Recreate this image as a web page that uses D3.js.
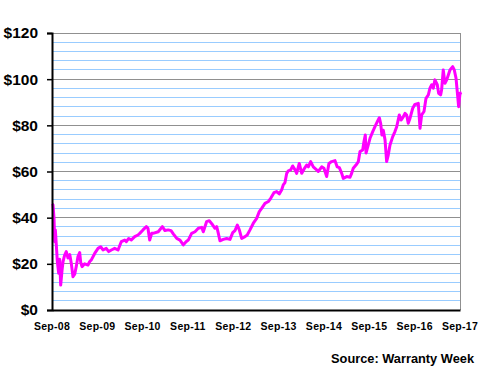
<!DOCTYPE html>
<html><head><meta charset="utf-8">
<script src="https://cdn.jsdelivr.net/npm/d3@7"></script>
<style>body{margin:0;background:#fff;}svg{display:block;font-family:"Liberation Sans",Arial,sans-serif;}</style>
</head><body>
<svg id="c" width="480" height="380"></svg>
<script>
const dates = ["2008-09-02","2008-09-09","2008-09-17","2008-09-23","2008-09-28","2008-10-06","2008-10-14","2008-10-25","2008-11-02","2008-11-10","2008-11-21","2008-11-29","2008-12-12","2008-12-25","2009-01-08","2009-01-22","2009-02-04","2009-02-17","2009-03-03","2009-03-16","2009-03-29","2009-04-12","2009-04-20","2009-05-01","2009-05-22","2009-06-18","2009-07-02","2009-07-15","2009-08-11","2009-09-07","2009-09-28","2009-10-17","2009-11-12","2009-12-02","2009-12-23","2010-01-19","2010-02-15","2010-03-13","2010-04-10","2010-04-23","2010-05-12","2010-06-02","2010-06-29","2010-07-26","2010-08-09","2010-09-04","2010-10-01","2010-10-14","2010-10-28","2010-11-13","2010-11-24","2011-01-05","2011-02-07","2011-02-28","2011-03-27","2011-04-18","2011-05-06","2011-06-03","2011-06-29","2011-07-26","2011-08-17","2011-09-04","2011-10-01","2011-10-28","2011-11-24","2011-12-21","2012-01-03","2012-01-30","2012-02-20","2012-03-19","2012-04-06","2012-04-20","2012-05-03","2012-05-16","2012-06-12","2012-07-09","2012-08-05","2012-08-27","2012-09-14","2012-10-03","2012-10-19","2012-11-07","2012-12-04","2012-12-22","2013-01-13","2013-02-09","2013-03-08","2013-03-29","2013-04-17","2013-05-14","2013-06-10","2013-06-29","2013-07-25","2013-08-16","2013-09-06","2013-09-25","2013-10-08","2013-10-22","2013-11-05","2013-11-18","2013-12-07","2013-12-23","2014-01-11","2014-01-24","2014-02-14","2014-03-06","2014-03-24","2014-04-15","2014-04-28","2014-05-17","2014-06-07","2014-07-04","2014-07-17","2014-08-14","2014-09-01","2014-09-23","2014-10-11","2014-11-02","2014-11-29","2014-12-17","2015-01-03","2015-01-22","2015-02-04","2015-03-03","2015-03-30","2015-04-12","2015-04-25","2015-05-17","2015-06-05","2015-06-18","2015-07-10","2015-07-20","2015-07-31","2015-08-06","2015-08-24","2015-09-07","2015-09-29","2015-10-17","2015-11-05","2015-11-21","2015-12-02","2015-12-12","2015-12-23","2016-01-06","2016-01-19","2016-02-01","2016-02-15","2016-03-08","2016-03-26","2016-04-09","2016-04-30","2016-05-14","2016-06-01","2016-06-15","2016-06-28","2016-07-11","2016-07-25","2016-08-16","2016-09-03","2016-09-30","2016-10-14","2016-10-27","2016-11-15","2016-12-01","2016-12-20","2017-01-02","2017-01-16","2017-01-29","2017-02-11","2017-03-02","2017-03-13","2017-03-29","2017-04-06","2017-04-19","2017-05-03","2017-05-17","2017-05-30","2017-06-12","2017-07-04","2017-07-17","2017-07-31","2017-08-10","2017-08-21","2017-09-01","2017-09-14"];
const prices = [46,45.5,40,29.6,34.7,28,21,15.9,22,10.8,17.3,21,23.8,25.3,22.5,24,20,14.4,15.5,19,23.1,24.9,20.7,18.8,20,19.5,21,21.7,24.5,26.7,27.4,26,26.7,25.3,26,26.7,26,29.6,30.3,29.6,31,30.3,31.8,32.5,33.2,34.7,36.1,35.4,30.3,33.2,33.2,33.9,36.1,34.4,34.7,34.4,33,31,30.3,28.2,29.6,30.3,33.2,33.9,35.4,35.8,33.9,38.3,38.7,36.8,35.4,36.1,33.2,30,30.6,31,30.6,33.5,34.4,36.8,34.7,31,31.8,32.5,34.7,37.6,39.7,42.6,44,46.2,47,48.4,50.8,51.3,50.3,52,54.2,55.2,59.2,60.3,60.7,62.4,60.7,59.2,63.5,59.2,61,62.8,62,64.3,62,60.7,60,62,61.4,57.8,63.5,64.3,64.7,62,61.7,59.2,57,57.8,57.5,59.2,61.4,62.8,64.3,68.6,69.3,72.9,75.8,68,71.5,74.4,77.3,79.4,81.6,83.3,80.8,75.8,77.9,73.7,64.3,67.1,71.5,75.1,77.3,79.4,84.5,82.3,83.7,85.2,84.5,80.9,83,87.4,89.1,89.5,78.7,84.5,86,91.7,93.2,96.1,97.6,96.1,99.7,97.6,93.9,93.2,95.4,104,98.2,99.7,101.8,104,105.4,104,100.4,94.6,88.1,93.9,94.2];
const yTicks = [0,20,40,60,80,100,120];
const minorTicks = [4,8,12,16,24,28,32,36,44,48,52,56,64,68,72,76,84,88,92,96,104,108,112,116];
const xLabelDates = ["2008-09-01","2009-09-01","2010-09-01","2011-09-01","2012-09-01","2013-09-01","2014-09-01","2015-09-01","2016-09-01","2017-09-01"];
const xLabels = ["Sep-08","Sep-09","Sep-10","Sep-11","Sep-12","Sep-13","Sep-14","Sep-15","Sep-16","Sep-17"];
const sourceText = "Source: Warranty Week";

const parse = d3.timeParse("%Y-%m-%d");
const svg = d3.select("#c");
const L = 52, R = 460, T = 33, B = 310;
const x = d3.scaleTime().domain([parse("2008-09-01"), parse("2017-09-01")]).range([L, R]);
const y = d3.scaleLinear().domain([0, 120]).range([B, T]);

svg.append("g").selectAll("line").data(minorTicks).join("line")
  .attr("x1", L).attr("x2", R).attr("y1", d => y(d)).attr("y2", d => y(d))
  .attr("stroke", "#99ccff").attr("stroke-width", 1).attr("shape-rendering","crispEdges");
svg.append("g").selectAll("line").data(yTicks.filter(d => d > 0)).join("line")
  .attr("x1", L).attr("x2", R).attr("y1", d => y(d)).attr("y2", d => y(d))
  .attr("stroke", "#909090").attr("stroke-width", 1).attr("shape-rendering","crispEdges");
svg.append("line").attr("x1", R).attr("x2", R).attr("y1", T).attr("y2", B)
  .attr("stroke", "#909090").attr("stroke-width", 1).attr("shape-rendering","crispEdges");

const data = dates.map((d, i) => ({d: parse(d), v: prices[i]}));
svg.append("path").datum(data)
  .attr("fill", "none").attr("stroke", "#ff00ff").attr("stroke-width", 3)
  .attr("stroke-linejoin", "round")
  .attr("d", d3.line().x(d => x(d.d)).y(d => y(d.v)));

const yAxis = d3.axisLeft(y).tickValues(yTicks).tickFormat(d => "$" + d).tickSize(5).tickPadding(9);
const gy = svg.append("g").attr("transform", `translate(${L},0)`).call(yAxis);
gy.select(".domain").attr("stroke", "#000").attr("stroke-width", 2);
gy.selectAll(".tick line").attr("stroke", "#000").attr("stroke-width", 1.5);
gy.selectAll("text").attr("font-size", "15.5px").attr("font-weight", "bold").attr("fill", "#000")
  .attr("font-family", "Liberation Sans, Arial, sans-serif");

const halfYears = d3.timeMonth.every(6).range(parse("2008-09-01"), parse("2017-09-02")).filter(d => d.getMonth() === 8 || d.getMonth() === 2);
const xAxis = d3.axisBottom(x).tickValues(halfYears).tickFormat("").tickSize(5).tickSizeOuter(0);
const gx = svg.append("g").attr("transform", `translate(0,${B})`).call(xAxis);
gx.select(".domain").attr("stroke", "#000").attr("stroke-width", 2);
gx.selectAll(".tick line").attr("stroke", "#000").attr("stroke-width", 1.5);
svg.append("g").selectAll("text").data(xLabelDates).join("text")
  .attr("x", d => x(parse(d))).attr("y", 330)
  .attr("text-anchor", "middle").attr("font-size", "10.5px").attr("font-weight", "bold")
  .attr("letter-spacing", "0.3px").attr("fill", "#000")
  .text((d, i) => xLabels[i]);

svg.append("text").attr("x", 474).attr("y", 363).attr("text-anchor", "end")
  .attr("font-size", "12.8px").attr("font-weight", "bold").attr("fill", "#000").text(sourceText);
</script>
</body></html>
